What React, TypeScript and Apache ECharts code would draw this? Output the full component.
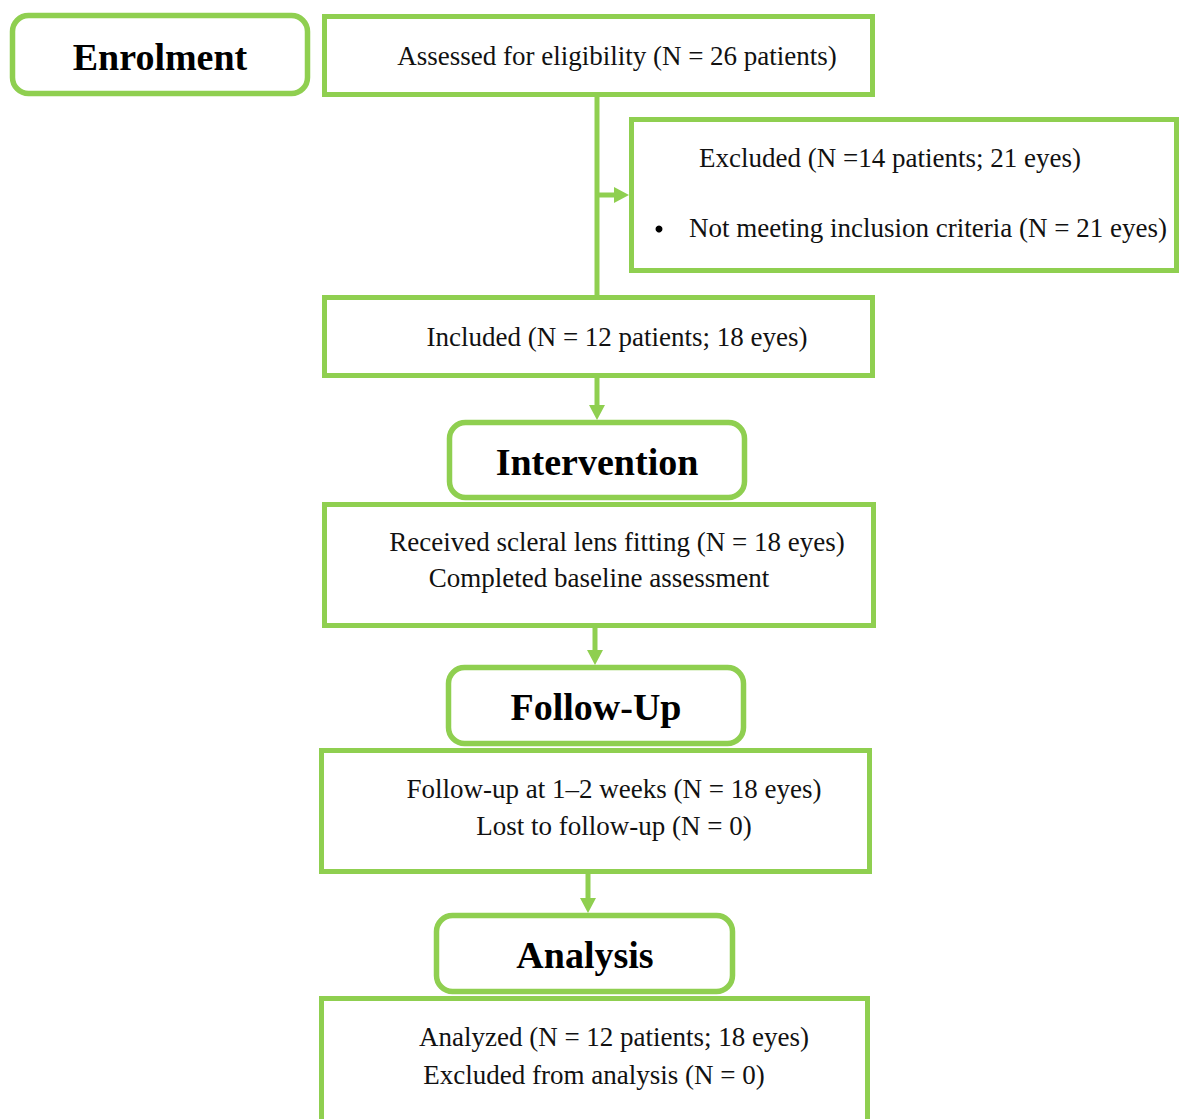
import React, { useEffect, useRef } from "react";
import * as echarts from "echarts";

// ---- content (texts) ----
const STAGES = ["Enrolment", "Intervention", "Follow-Up", "Analysis"];
const ASSESSED_LINES = ["Assessed for eligibility (N = 26 patients)"];
const EXCLUDED_LINES = ["Excluded (N =14 patients; 21 eyes)", "Not meeting inclusion criteria (N = 21 eyes)"];
const INCLUDED_LINES = ["Included (N = 12 patients; 18 eyes)"];
const INTERVENTION_LINES = ["Received scleral lens fitting (N = 18 eyes)", "Completed baseline assessment"];
const FOLLOWUP_LINES = ["Follow-up at 1\u20132 weeks (N = 18 eyes)", "Lost to follow-up (N = 0)"];
const ANALYSIS_LINES = ["Analyzed (N = 12 patients; 18 eyes)", "Excluded from analysis (N = 0)"];

// ---- layout (positions / sizes) ----
const GREEN = "#8FCF50";
const SERIF = "'Liberation Serif', 'Times New Roman', serif";

// stage (rounded) boxes: x, y, w, h
const STAGE_BOXES = [
  [12.5, 15.5, 295, 78],
  [449.5, 422.5, 295, 75],
  [448.5, 667.5, 295, 76],
  [436.5, 915.5, 296, 76],
];
const STAGE_TEXT_POS = [
  [160, 57],
  [597, 462],
  [596, 707],
  [585, 955],
];

// content boxes: x, y, w, h, with per-line text centers
const CONTENT = [
  { box: [324.5, 16.5, 548, 78], lines: ASSESSED_LINES, pos: [[617, 56]] },
  { box: [631.5, 119.5, 545, 151], lines: EXCLUDED_LINES, pos: [[890, 158], [928, 228]], bullet: [659, 229] },
  { box: [324.5, 297.5, 548, 78], lines: INCLUDED_LINES, pos: [[617, 337]] },
  { box: [324.5, 504.5, 549, 121], lines: INTERVENTION_LINES, pos: [[617, 542], [599, 578]] },
  { box: [321.5, 750.5, 548, 121], lines: FOLLOWUP_LINES, pos: [[614, 789], [614, 826]] },
  { box: [321.5, 998.5, 546, 130], lines: ANALYSIS_LINES, pos: [[614, 1037], [594, 1075]] },
];

// arrows: [x1, y1, x2, y2, head] (tip at x2,y2)
const ARROWS = [
  [597, 96, 597, 296, false],
  [597, 195, 629, 195, true],
  [597, 377, 597, 420, true],
  [595, 627, 595, 665, true],
  [588, 873, 588, 913, true],
];

function buildGraphics() {
  const els: any[] = [];
  const LW = 5;
  const HEAD = 15;
  const HALF = 8;

  ARROWS.forEach((a: any) => {
    const [x1, y1, x2, y2, head] = a;
    const horiz = y1 === y2;
    if (!head) {
      els.push({ type: "line", shape: { x1, y1, x2, y2 }, style: { stroke: GREEN, lineWidth: LW }, z: 1 });
      return;
    }
    if (horiz) {
      els.push({ type: "line", shape: { x1, y1, x2: x2 - HEAD + 2, y2 }, style: { stroke: GREEN, lineWidth: LW }, z: 1 });
      els.push({
        type: "polygon",
        shape: { points: [[x2 - HEAD, y2 - HALF], [x2, y2], [x2 - HEAD, y2 + HALF]] },
        style: { fill: GREEN },
        z: 1,
      });
    } else {
      els.push({ type: "line", shape: { x1, y1, x2, y2: y2 - HEAD + 2 }, style: { stroke: GREEN, lineWidth: LW }, z: 1 });
      els.push({
        type: "polygon",
        shape: { points: [[x2 - HALF, y2 - HEAD], [x2, y2], [x2 + HALF, y2 - HEAD]] },
        style: { fill: GREEN },
        z: 1,
      });
    }
  });

  STAGE_BOXES.forEach((b, i) => {
    els.push({
      type: "rect",
      shape: { x: b[0], y: b[1], width: b[2], height: b[3], r: 16 },
      style: { fill: "#fff", stroke: GREEN, lineWidth: 5.5 },
      z: 3,
    });
    els.push({
      type: "text",
      x: STAGE_TEXT_POS[i][0],
      y: STAGE_TEXT_POS[i][1],
      style: {
        text: STAGES[i],
        fill: "#000",
        font: `bold 38px ${SERIF}`,
        align: "center",
        verticalAlign: "middle",
        textAlign: "center",
        textVerticalAlign: "middle",
      },
      z: 4,
    });
  });

  CONTENT.forEach((c: any) => {
    const b = c.box;
    els.push({
      type: "rect",
      shape: { x: b[0], y: b[1], width: b[2], height: b[3] },
      style: { fill: "#fff", stroke: GREEN, lineWidth: 5 },
      z: 2,
    });
    c.lines.forEach((t: string, j: number) => {
      els.push({
        type: "text",
        x: c.pos[j][0],
        y: c.pos[j][1],
        style: {
          text: t,
          fill: "#111",
          font: `27px ${SERIF}`,
          align: "center",
          verticalAlign: "middle",
          textAlign: "center",
          textVerticalAlign: "middle",
        },
        z: 4,
      });
    });
    if (c.bullet) {
      els.push({ type: "circle", shape: { cx: c.bullet[0], cy: c.bullet[1], r: 3.5 }, style: { fill: "#000" }, z: 4 });
    }
  });
  return els;
}

export default function App() {
  const ref = useRef<HTMLDivElement>(null);
  useEffect(() => {
    if (!ref.current) return;
    const chart = echarts.init(ref.current, undefined, { renderer: "svg" });
    chart.setOption({
      animation: false,
      backgroundColor: "#ffffff",
      graphic: { elements: buildGraphics() },
    });
    return () => chart.dispose();
  }, []);
  return (
    <div
      ref={ref}
      style={{ position: "absolute", left: 0, top: 0, width: 1179, height: 1119, background: "#fff" }}
    />
  );
}
